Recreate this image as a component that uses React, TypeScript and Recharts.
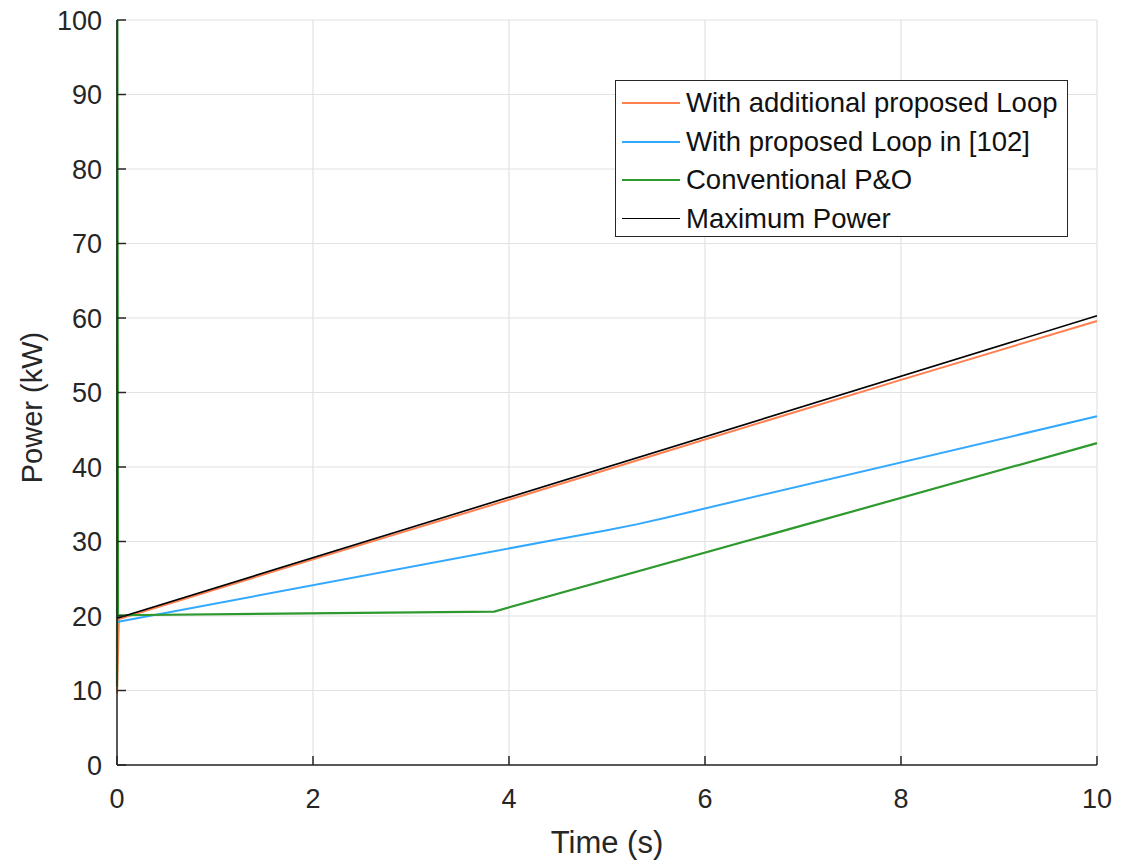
import React from "react";
import {
    LineChart,
    Line,
    XAxis,
    YAxis,
    CartesianGrid,
    Legend,
    Label,
} from "recharts";

// time (s) / power (kW) for each tracker
const loopTime = [0, 0.02, 2, 4, 6, 8, 10];
const loopPower = [9.6, 19.6, 27.6, 35.6, 43.7, 51.7, 59.6];

const refTime = [0, 4.5, 5.0, 5.3, 5.6, 10];
const refPower = [19.2, 30.3, 31.5, 32.3, 33.2, 46.8];

const poTime = [0, 0.004, 0.01, 3.85, 10];
const poPower = [10.5, 100, 20.1, 20.6, 43.2];

const maxTime = [0, 10];
const maxPower = [19.7, 60.3];

const xTicks = [0, 2, 4, 6, 8, 10];
const yTicks = [0, 10, 20, 30, 40, 50, 60, 70, 80, 90, 100];

const toRows = (t: number[], p: number[]) => t.map((v, i) => ({ t: v, p: p[i] }));

const series = [
    { name: "With additional proposed Loop", color: "#FF7F4F", width: 2, data: toRows(loopTime, loopPower) },
    { name: "With proposed Loop in [102]", color: "#33A8FF", width: 2, data: toRows(refTime, refPower) },
    { name: "Conventional P&O", color: "#2E992E", width: 2.2, data: toRows(poTime, poPower) },
    { name: "Maximum Power", color: "#000000", width: 1.6, data: toRows(maxTime, maxPower) },
];

const FONT = "'Liberation Sans', Arial, Helvetica, sans-serif";
const AXIS = "#262626";
const tickStyle = { fontSize: 27, fill: AXIS, fontFamily: FONT };

const LegendBox = () => (
    <div
        style={{
            width: 453,
            height: 157,
            border: `1.5px solid ${AXIS}`,
            background: "#fff",
            fontFamily: FONT,
            fontSize: 27.5,
            color: "#111",
            boxSizing: "border-box",
            paddingTop: 3,
        }}
    >
        {series.map((s) => (
            <div key={s.name} style={{ display: "flex", alignItems: "center", height: 38.5 }}>
                <div
                    style={{
                        width: 58,
                        marginLeft: 6,
                        marginRight: 6,
                        borderTop: `${s.width === 1.6 ? 1.5 : 2}px solid ${s.color}`,
                    }}
                />
                <span style={{ whiteSpace: "nowrap" }}>{s.name}</span>
            </div>
        ))}
    </div>
);

export default function App() {
    return (
        <div style={{ position: "absolute", left: 0, top: 0, background: "#fff" }}>
            <LineChart width={1128} height={865} margin={{ top: 20, right: 31, bottom: 0, left: 0 }}>
                <CartesianGrid stroke="#e2e2e2" strokeWidth={1.2} />

                <XAxis
                    dataKey="t"
                    type="number"
                    domain={[0, 10]}
                    ticks={xTicks}
                    height={100}
                    allowDuplicatedCategory={false}
                    stroke={AXIS}
                    strokeWidth={1.5}
                    tickSize={-9}
                    tickMargin={33}
                    tick={tickStyle}
                >
                    <Label
                        value="Time (s)"
                        position="insideBottom"
                        offset={12}
                        style={{ fontSize: 31, fill: AXIS, fontFamily: FONT }}
                    />
                </XAxis>
                <XAxis
                    xAxisId="top"
                    orientation="top"
                    dataKey="t"
                    type="number"
                    domain={[0, 10]}
                    ticks={xTicks}
                    height={0}
                    stroke={AXIS}
                    strokeWidth={1.5}
                    tickSize={-9}
                    tickFormatter={() => ""}
                />

                <YAxis
                    type="number"
                    domain={[0, 100]}
                    ticks={yTicks}
                    width={117}
                    stroke={AXIS}
                    strokeWidth={1.5}
                    tickSize={-9}
                    tickMargin={24}
                    tick={tickStyle}
                    label={({ viewBox }: any) => (
                        <text
                            x={0}
                            y={0}
                            transform={`translate(42, ${viewBox.y + viewBox.height / 2 + 15}) rotate(-90)`}
                            textAnchor="middle"
                            fontSize={29}
                            fill={AXIS}
                            fontFamily={FONT}
                        >
                            Power (kW)
                        </text>
                    )}
                />
                <YAxis
                    yAxisId="right"
                    orientation="right"
                    type="number"
                    domain={[0, 100]}
                    ticks={yTicks}
                    width={0}
                    stroke={AXIS}
                    strokeWidth={1.5}
                    tickSize={-9}
                    tickFormatter={() => ""}
                />

                <Legend
                    layout="vertical"
                    align="center"
                    verticalAlign="middle"
                    wrapperStyle={{ left: 615, top: 80, width: 453 }}
                    content={() => <LegendBox />}
                />

                {series.map((s) => (
                    <Line
                        key={s.name}
                        data={s.data}
                        dataKey="p"
                        name={s.name}
                        type="linear"
                        stroke={s.color}
                        strokeWidth={s.width}
                        dot={false}
                        activeDot={false}
                        isAnimationActive={false}
                    />
                ))}
            </LineChart>
        </div>
    );
}
